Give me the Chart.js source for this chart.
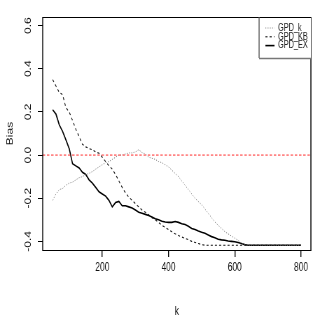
<!DOCTYPE html>
<html>
<head>
<meta charset="utf-8">
<script src="https://cdn.jsdelivr.net/npm/chart.js@4/dist/chart.umd.min.js"></script>
<style>
  html, body { margin: 0; padding: 0; background: #fff; overflow: hidden; }
  #wrap { width: 457px; height: 327px; transform: scaleX(0.7002); transform-origin: 0 0; }
</style>
</head>
<body>
<div id="wrap"><canvas id="myChart" width="457" height="327"></canvas></div>
<script>
// k values (x axis)
const kValues = [50, 60, 70, 80, 90, 100, 110, 120, 130, 140, 150, 160, 170, 180, 190, 200,
  210, 220, 230, 240, 250, 260, 270, 280, 290, 300, 310, 320, 330, 340, 350, 360, 370, 380,
  390, 400, 410, 420, 430, 440, 450, 460, 470, 480, 490, 500, 510, 520, 530, 540, 550, 560,
  570, 580, 590, 600, 610, 620, 630, 640, 650, 700, 750, 800];

// bias, dotted line
const gpdK = [-0.21, -0.18, -0.16, -0.155, -0.14, -0.13, -0.125, -0.115, -0.105, -0.10, -0.09,
  -0.085, -0.076, -0.065, -0.055, -0.045, -0.035, -0.03, -0.02, -0.01, 0.0, 0.0, 0.005, 0.01,
  0.01, 0.015, 0.025, 0.012, 0.005, -0.01, -0.015, -0.02, -0.03, -0.035, -0.045, -0.055, -0.07,
  -0.085, -0.10, -0.12, -0.14, -0.16, -0.18, -0.20, -0.215, -0.23, -0.25, -0.27, -0.29, -0.31,
  -0.325, -0.34, -0.355, -0.365, -0.375, -0.385, -0.395, -0.41, -0.415, -0.418, -0.418,
  -0.418, -0.418, -0.418];

// bias, dashed line
const gpdKB = [0.35, 0.32, 0.29, 0.28, 0.22, 0.20, 0.16, 0.12, 0.085, 0.05, 0.038, 0.03, 0.025,
  0.015, 0.008, -0.01, -0.03, -0.05, -0.065, -0.09, -0.12, -0.15, -0.175, -0.195, -0.21, -0.225,
  -0.24, -0.255, -0.265, -0.277, -0.29, -0.30, -0.313, -0.325, -0.335, -0.345, -0.355, -0.365,
  -0.373, -0.38, -0.386, -0.392, -0.40, -0.405, -0.41, -0.415, -0.418, -0.418, -0.418, -0.418,
  -0.418, -0.418, -0.418, -0.418, -0.418, -0.418, -0.418, -0.418, -0.418, -0.418, -0.418,
  -0.418, -0.418, -0.418];

// bias, solid line
const gpdEX = [0.21, 0.19, 0.14, 0.11, 0.07, 0.03, -0.04, -0.05, -0.06, -0.08, -0.09, -0.115,
  -0.13, -0.15, -0.17, -0.18, -0.19, -0.21, -0.24, -0.22, -0.215, -0.235, -0.235, -0.24, -0.245,
  -0.255, -0.265, -0.27, -0.275, -0.28, -0.287, -0.295, -0.30, -0.307, -0.31, -0.312, -0.312,
  -0.308, -0.312, -0.318, -0.322, -0.33, -0.34, -0.345, -0.352, -0.358, -0.362, -0.37, -0.378,
  -0.383, -0.39, -0.393, -0.395, -0.398, -0.40, -0.402, -0.405, -0.41, -0.415, -0.418, -0.418,
  -0.418, -0.418, -0.418];

const xTicks = [200, 400, 600, 800];
const yTicks = [-0.4, -0.2, 0.0, 0.2, 0.4, 0.6];
const xRange = [20, 830];
const yRange = [-0.44, 0.64];
const refLevel = 0;

const pts = (ys) => kValues.map((k, i) => ({ x: k, y: ys[i] }));
const FONT = "'Liberation Sans', Arial, sans-serif";

// box round the plot and the legend in the top right corner
const boxAndLegend = {
  id: 'boxAndLegend',
  afterDraw(chart) {
    const ctx = chart.ctx;
    const a = chart.chartArea;
    ctx.save();
    ctx.strokeStyle = '#000';
    ctx.lineWidth = 1;
    ctx.beginPath();
    ctx.moveTo(a.left, a.top + 0.5); ctx.lineTo(a.right, a.top + 0.5);
    ctx.moveTo(a.left, a.bottom + 0.5); ctx.lineTo(a.right, a.bottom + 0.5);
    ctx.stroke();
    ctx.lineWidth = 1.4;
    ctx.beginPath();
    ctx.moveTo(a.left, a.top); ctx.lineTo(a.left, a.bottom + 1);
    ctx.moveTo(a.right, a.top); ctx.lineTo(a.right, a.bottom + 1);
    ctx.stroke();

    // legend
    const lx = 370, ly = a.top, lw = a.right - lx, lh = 41;
    ctx.fillStyle = '#fff';
    ctx.fillRect(lx, ly + 1, lw, lh);
    ctx.strokeStyle = '#555';
    ctx.lineWidth = 1.4;
    ctx.beginPath();
    ctx.moveTo(lx, ly); ctx.lineTo(lx, ly + lh);
    ctx.stroke();
    ctx.lineWidth = 1.6;
    ctx.strokeStyle = '#777';
    ctx.beginPath();
    ctx.moveTo(lx, ly + lh + 0.5); ctx.lineTo(a.right, ly + lh + 0.5);
    ctx.stroke();
    ctx.font = '10.5px ' + FONT;
    ctx.textBaseline = 'middle';
    ctx.textAlign = 'left';
    const rows = [1, 2, 3];
    rows.forEach((di, r) => {
      const ds = chart.data.datasets[di];
      const y = ly + 11 + r * 8.8;
      ctx.strokeStyle = ds.borderColor;
      ctx.lineWidth = ds.borderWidth;
      ctx.setLineDash(ds.borderDash || []);
      ctx.beginPath();
      ctx.moveTo(379, y); ctx.lineTo(392, y);
      ctx.stroke();
      ctx.setLineDash([]);
      ctx.fillStyle = '#222';
      ctx.fillText(ds.label, 397, y);
    });
    ctx.restore();
  }
};

const ctx = document.getElementById('myChart').getContext('2d');

const data = {
  datasets: [
    {
      label: 'zero',
      data: [{ x: xRange[0], y: refLevel }, { x: xRange[1], y: refLevel }],
      borderColor: '#ff2a2a',
      borderWidth: 1,
      borderDash: [3.5, 2.5],
      pointRadius: 0,
    },
    {
      label: 'GPD_k',
      data: pts(gpdK),
      borderColor: '#7a7a7a',
      borderWidth: 1,
      borderDash: [1.2, 2],
      pointRadius: 0,
    },
    {
      label: 'GPD_KB',
      data: pts(gpdKB),
      borderColor: '#111',
      borderWidth: 1.1,
      borderDash: [3, 3],
      pointRadius: 0,
    },
    {
      label: 'GPD_EX',
      data: pts(gpdEX),
      borderColor: '#000',
      borderWidth: 1.6,
      pointRadius: 0,
    },
  ],
};

const config = {
  type: 'line',
  data: data,
  options: {
    responsive: false,
    animation: false,
    devicePixelRatio: 1,
    layout: { padding: { top: 17, right: 13, left: 0, bottom: 0 } },
    plugins: { legend: { display: false }, tooltip: { enabled: false } },
    elements: { line: { tension: 0 } },
    scales: {
      x: {
        type: 'linear',
        min: xRange[0],
        max: xRange[1],
        afterBuildTicks: (s) => { s.ticks = xTicks.map(v => ({ value: v })); },
        afterFit: (s) => { s.height = 77; },
        border: { display: false },
        grid: { drawOnChartArea: false, drawTicks: true, tickLength: 7, tickColor: '#000', lineWidth: 1.4 },
        ticks: { color: '#111', padding: 3, maxRotation: 0, font: { family: FONT, size: 12 } },
        title: { display: true, text: 'k', color: '#111', font: { family: FONT, size: 12 }, padding: { top: 0, bottom: 8 } },
      },
      y: {
        type: 'linear',
        min: yRange[0],
        max: yRange[1],
        afterBuildTicks: (s) => { s.ticks = yTicks.map(v => ({ value: v })); },
        afterFit: (s) => { s.width = 61; },
        border: { display: false },
        grid: { drawOnChartArea: false, drawTicks: true, tickLength: 7, tickColor: '#000', lineWidth: 1 },
        ticks: {
          color: '#111', padding: 3, minRotation: 90, maxRotation: 90, crossAlign: 'center',
          font: { family: FONT, size: 12 },
          callback: (v) => v.toFixed(1),
        },
        title: { display: true, text: 'Bias', color: '#111', font: { family: FONT, size: 12 }, padding: { top: 7, bottom: 0 } },
      },
    },
  },
  plugins: [boxAndLegend],
};

let chartStatus = Chart.getChart('myChart');
if (chartStatus != undefined) {
  chartStatus.destroy();
}
const myChart = new Chart(ctx, config);
</script>
</body>
</html>
